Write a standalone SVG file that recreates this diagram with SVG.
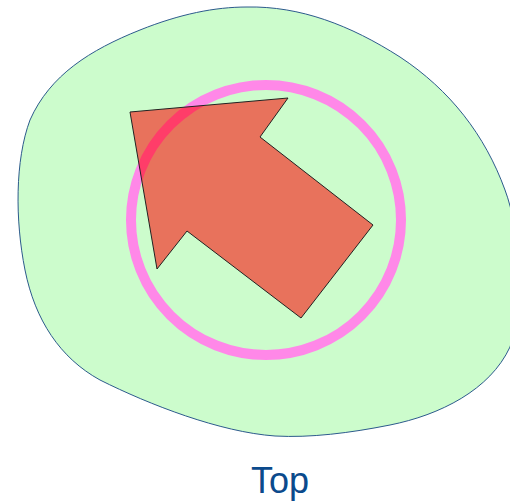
<svg xmlns="http://www.w3.org/2000/svg" width="510" height="504" viewBox="0 0 510 504">
<style>
.blob{fill:#ccfccc;stroke:#2c5a8c;stroke-width:1}
.ring{fill:none;stroke:#ff88e8;stroke-width:10}
.arrow{fill:#ff0000;fill-opacity:0.55;stroke:#222;stroke-width:1;stroke-linejoin:miter}
.label{font-family:"Liberation Sans","DejaVu Sans",sans-serif;font-size:36px;fill:#0b4a8c}
</style>
<rect width="510" height="504" fill="#ffffff"/>
<g id="region">
<path class="blob" d="M247,7 C300,6 350,25 400,57 C450,90 485,135 505,190 C520,230 525,300 510,347 C490,390 440,415 390,425 C350,433 310,438 275,436 C220,432 150,405 100,380 C60,358 35,320 25,270 C15,220 15,160 30,120 C50,75 90,50 140,30 C180,14 215,7 247,7 Z"/>
</g>
<g id="circle">
<circle class="ring" cx="266" cy="220" r="135"/>
</g>
<g id="arrow">
<polygon class="arrow" points="130,112 288,98 260,137 373,225 301,318 187,231 157,269"/>
</g>
<g id="caption">
<text class="label" x="280" y="493" text-anchor="middle">Top</text>
</g>
</svg>
